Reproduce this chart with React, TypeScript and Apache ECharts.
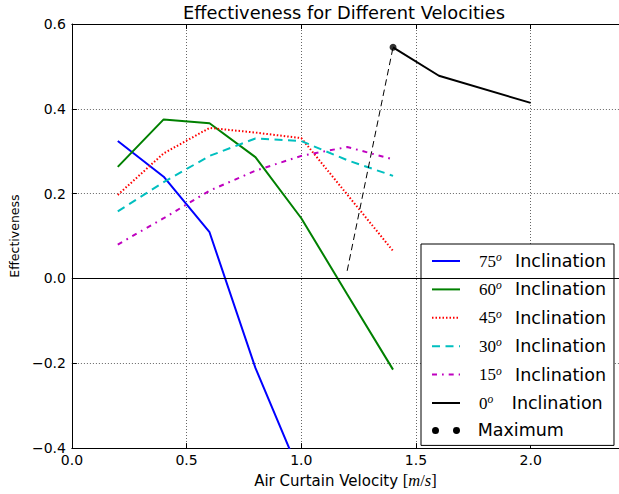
import React, { useEffect, useRef } from 'react';
import * as echarts from 'echarts';

// ---- data ----
const velocities = [0.2, 0.4, 0.6, 0.8, 1.0, 1.2, 1.4];
const eff75 = [0.324, 0.240, 0.109, -0.211, -0.468];
const eff60 = [0.263, 0.375, 0.366, 0.286, 0.142, -0.037, -0.215];
const eff45 = [0.197, 0.295, 0.355, 0.344, 0.331, 0.198, 0.065];
const eff30 = [0.158, 0.227, 0.289, 0.330, 0.324, 0.279, 0.242];
const eff15 = [0.080, 0.142, 0.207, 0.254, 0.289, 0.310, 0.281];
const vel0 = [1.4, 1.6, 2.0];
const eff0 = [0.545, 0.478, 0.414];
const maxVel = [1.4];
const maxEff = [0.545];
const maxLineVel = [1.2, 1.4];
const maxLineEff = [0.018, 0.545];
const inclinations = ['75', '60', '45', '30', '15', '0'];
const xTickLabels = ['0.0', '0.5', '1.0', '1.5', '2.0'];
const yTickLabels = ['−0.4', '−0.2', '0.0', '0.2', '0.4', '0.6'];

const zip = (xs: number[], ys: number[]) => ys.map((y, i) => [xs[i], y]);

const FONT = 'DejaVu Sans';
const SERIF = 'Liberation Serif';

export default function App() {
  const ref = useRef<HTMLDivElement>(null);
  useEffect(() => {
    if (!ref.current) return;
    const chart = echarts.init(ref.current, null, { renderer: 'svg' });
    const lineSeries = (name: string, xs: number[], ys: number[], color: string, type: any, width = 2) => ({
      name,
      type: 'line',
      data: zip(xs, ys),
      symbol: 'none',
      clip: true,
      lineStyle: { color, width, type },
      itemStyle: { color },
    });
    const option: any = {
      animation: false,
      backgroundColor: '#fff',
      title: {
        text: 'Effectiveness for Different Velocities',
        left: 183,
        top: 3,
        padding: 0,
        textStyle: { fontFamily: FONT, fontSize: 17.8, fontWeight: 'normal', color: '#000' },
      },
      grid: { left: 68, top: 24, right: 0, bottom: 42.4, containLabel: false },
      xAxis: [
        {
          type: 'value',
          min: 0,
          max: 2.385,
          interval: 0.5,
          name: 'Air Curtain Velocity {lb|[}{it|m}{sl|/}{it|s}{lb|]}',
          nameLocation: 'middle',
          nameGap: 22,
          nameTextStyle: {
            fontFamily: FONT,
            fontSize: 15,
            color: '#000',
            rich: {
              lb: { fontFamily: SERIF, fontSize: 16.5, color: '#000' },
              it: { fontFamily: SERIF, fontStyle: 'italic', fontSize: 16.5, color: '#000' },
              sl: { fontFamily: SERIF, fontSize: 16.5, color: '#000' },
            },
          },
          axisLine: { show: true, onZero: false, lineStyle: { color: '#000', width: 1 } },
          axisTick: { show: true, inside: true, length: 5, lineStyle: { color: '#000' } },
          axisLabel: {
            fontFamily: FONT,
            fontSize: 14,
            color: '#000',
            margin: 5,
            showMaxLabel: false,
            formatter: (v: number) => {
              const idx = Math.round(v / 0.5);
              return Math.abs(v - idx * 0.5) < 1e-6 && xTickLabels[idx] ? xTickLabels[idx] : '';
            },
          },
          splitLine: { show: true, lineStyle: { color: '#666', width: 1, type: [1, 2] } },
        },
        {
          type: 'value',
          position: 'top',
          min: 0,
          max: 2.385,
          interval: 0.5,
          axisLine: { show: true, onZero: false, lineStyle: { color: '#000', width: 1 } },
          axisTick: { show: true, inside: true, length: 5, lineStyle: { color: '#000' } },
          axisLabel: { show: false },
          splitLine: { show: false },
        },
      ],
      yAxis: {
        type: 'value',
        min: -0.4,
        max: 0.6,
        interval: 0.2,
        name: 'Effectiveness',
        nameLocation: 'middle',
        nameGap: 35,
        nameTextStyle: { fontFamily: FONT, fontSize: 12.5, color: '#000' },
        axisLine: { show: true, onZero: false, lineStyle: { color: '#000', width: 1 } },
        axisTick: { show: true, inside: true, length: 5, lineStyle: { color: '#000' } },
        axisLabel: {
          fontFamily: FONT,
          fontSize: 14,
          color: '#000',
          margin: 6,
          formatter: (v: number) => {
            const idx = Math.round((v + 0.4) / 0.2);
            return yTickLabels[idx] ?? '';
          },
        },
        splitLine: { show: true, lineStyle: { color: '#666', width: 1, type: [1, 2] } },
      },
      legend: {
        orient: 'vertical',
        left: 421,
        top: 244,
        padding: [7, 8, 6, 10],
        itemGap: 9.4,
        itemWidth: 28,
        itemHeight: 7,
        backgroundColor: '#fff',
        borderColor: '#000',
        borderWidth: 1,
        borderRadius: 0,
        itemStyle: { opacity: 0 },
        textStyle: {
          fontFamily: FONT,
          fontSize: 17.5,
          color: '#000',
          rich: {
            a: { fontFamily: SERIF, fontSize: 17, lineHeight: 20, padding: [0, 0, 0, 14], color: '#000' },
            s: { fontFamily: SERIF, fontStyle: 'italic', fontSize: 11.5, lineHeight: 10, verticalAlign: 'top', color: '#000' },
            b: { fontFamily: FONT, fontSize: 17.5, lineHeight: 20, padding: [0, 0, 0, 13.3], color: '#000' },
            c: { fontFamily: FONT, fontSize: 17.5, lineHeight: 20, padding: [0, 0, 0, 18.5], color: '#000' },
            m: { fontFamily: FONT, fontSize: 17.5, lineHeight: 8, padding: [0, 0, 0, 12.7], color: '#000' },
          },
        },
        formatter: (name: string) =>
          name === 'Maximum'
            ? '{m|Maximum}'
            : `{a|${name}}{s|o}{${name === '0' ? 'c' : 'b'}|Inclination}`,
        data: [
          ...inclinations.map((n) => ({ name: n })),
          {
            name: 'Maximum',
            icon: 'path://M0,3.5A3.5,3.5,0,1,0,7,3.5A3.5,3.5,0,1,0,0,3.5ZM21,3.5A3.5,3.5,0,1,0,28,3.5A3.5,3.5,0,1,0,21,3.5Z',
            itemStyle: { opacity: 1, color: '#000' },
          },
        ],
      },
      series: [
        {
          ...lineSeries('75', velocities, eff75, '#0000ff', 'solid'),
          markLine: {
            silent: true,
            symbol: ['none', 'none'],
            label: { show: false },
            lineStyle: { color: '#000', width: 1, type: 'solid' },
            data: [{ yAxis: 0 }],
          },
        },
        lineSeries('60', velocities, eff60, '#008000', 'solid'),
        lineSeries('45', velocities, eff45, '#ff0000', [1.5, 2]),
        lineSeries('30', velocities, eff30, '#00bfbf', [8, 5.5]),
        lineSeries('15', velocities, eff15, '#bf00bf', [5, 5, 1.7, 5]),
        lineSeries('0', vel0, eff0, '#000000', 'solid'),
        lineSeries('maxline', maxLineVel, maxLineEff, '#000000', [6.5, 4], 1),
        {
          name: 'Maximum',
          type: 'scatter',
          data: zip(maxVel, maxEff),
          symbol: 'circle',
          symbolSize: 7,
          itemStyle: { color: '#000' },
          z: 5,
        },
      ],
    };
    chart.setOption(option);
    return () => chart.dispose();
  }, []);
  return (
    <div
      ref={ref}
      style={{ position: 'absolute', left: 0, top: 0, width: 619, height: 494 }}
    />
  );
}
